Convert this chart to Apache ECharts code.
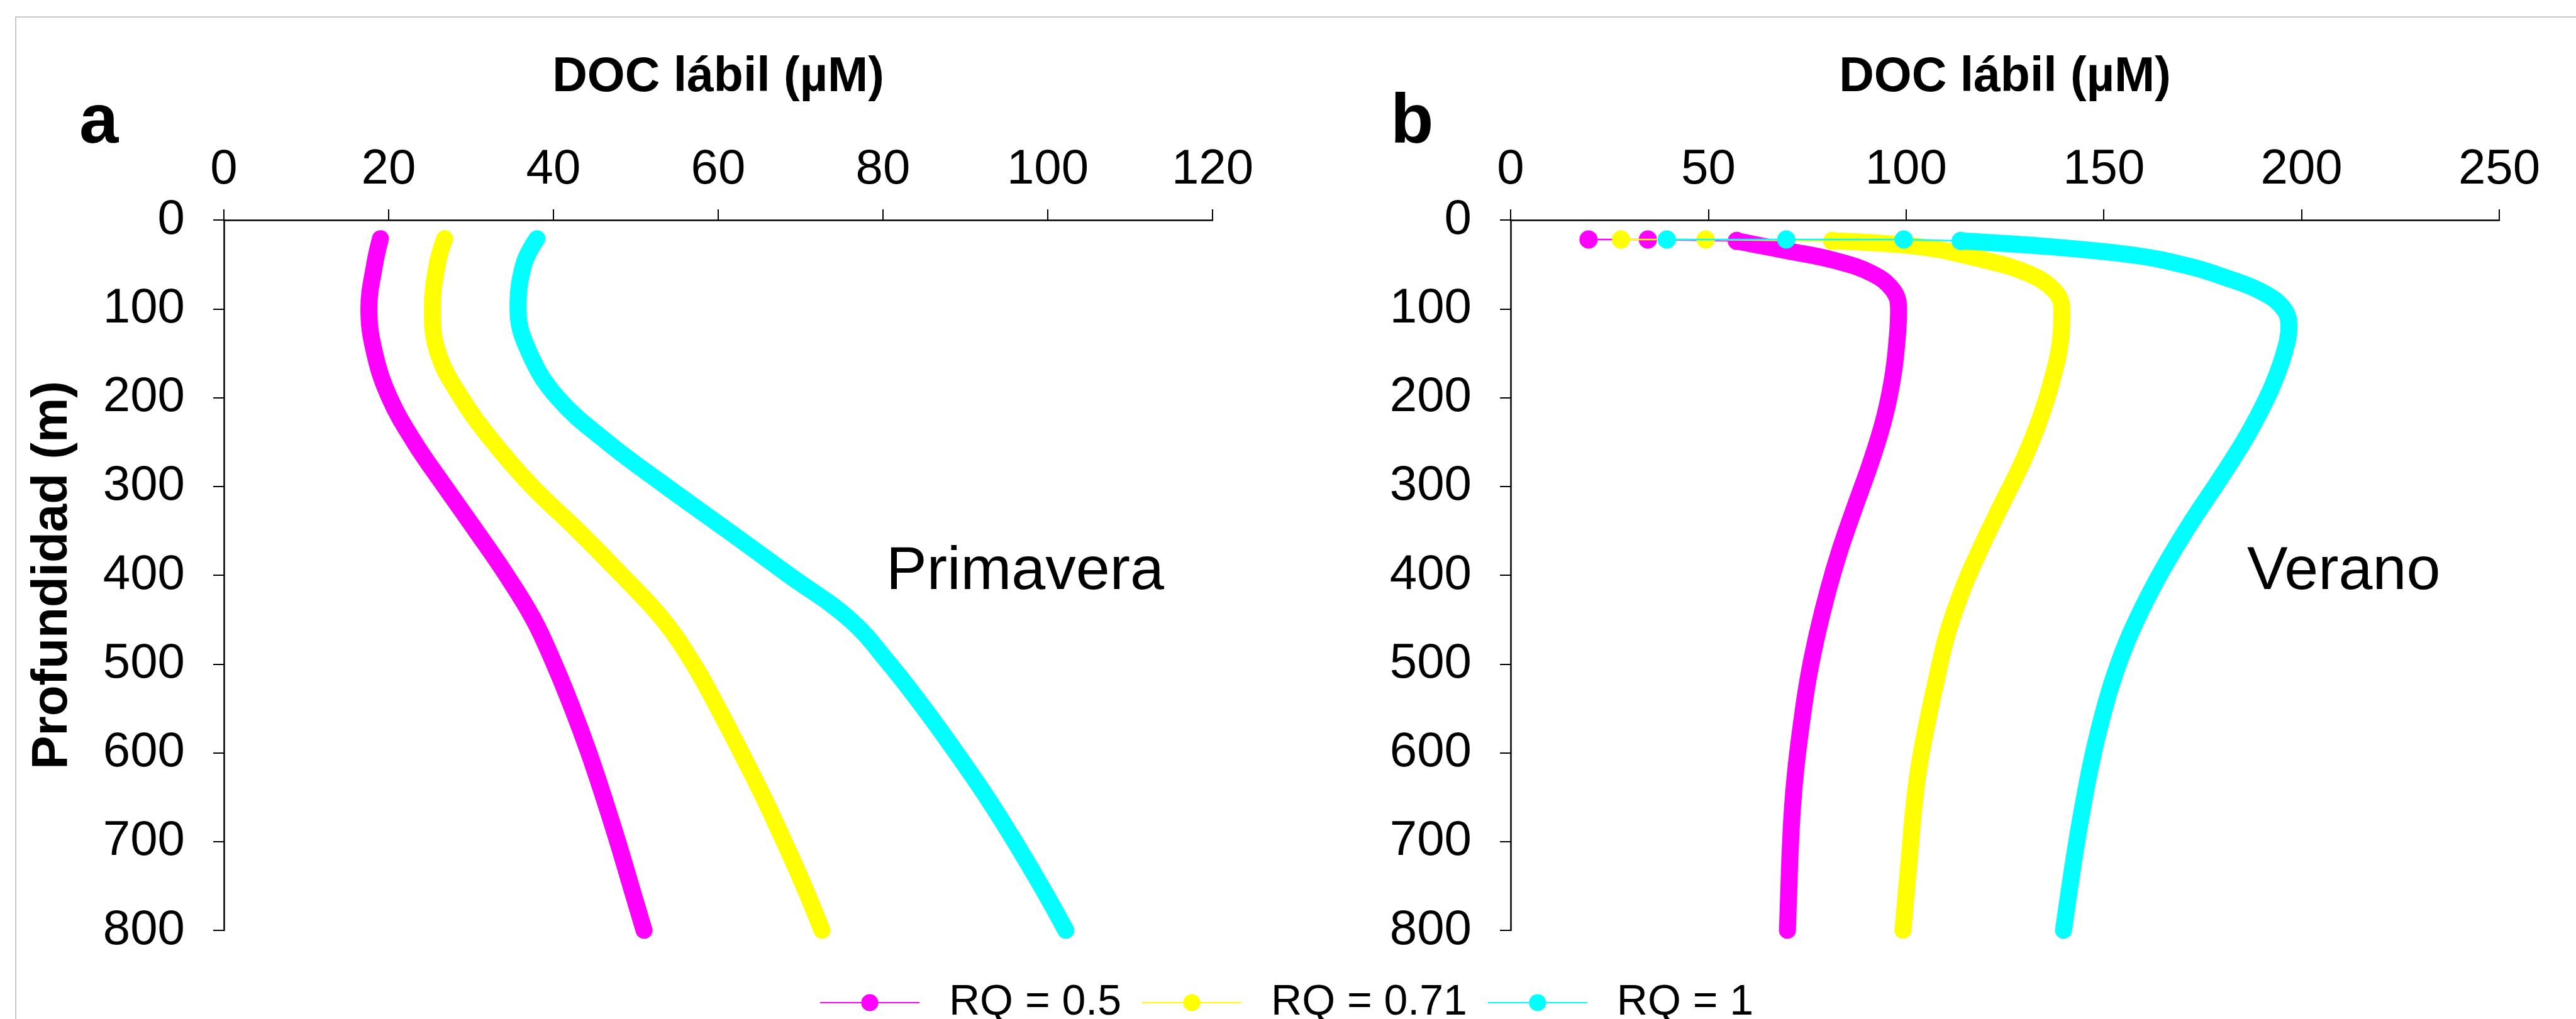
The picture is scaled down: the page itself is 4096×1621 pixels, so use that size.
<!DOCTYPE html>
<html>
<head>
<meta charset="utf-8">
<title>DOC lábil – Primavera / Verano</title>
<script src="https://cdn.jsdelivr.net/npm/echarts@6/dist/echarts.min.js"></script>
<style>
  html, body { margin: 0; padding: 0; background: #ffffff; }
  #chart { width: 4096px; height: 1621px; }
</style>
</head>
<body>
<div id="chart"></div>
<script>
// ---- Data -------------------------------------------------------------
const seriesNames = ['RQ = 0.5', 'RQ = 0.71', 'RQ = 1'];
const seriesColors = ['#ff00ff', '#ffff00', '#00ffff'];

// a) Primavera: depth (m) and labile DOC (µM)
const springDepth = [21, 50, 100, 150, 200, 250, 300, 350, 400, 450, 500, 550, 600, 650, 700, 750, 800];
const springRQ05  = [19.0, 18.3, 17.6, 18.3, 20.1, 23.1, 26.8, 30.6, 34.3, 37.6, 40.1, 42.3, 44.3, 46.1, 47.8, 49.4, 51.0];
const springRQ071 = [26.8, 25.9, 25.3, 26.0, 28.8, 32.7, 37.4, 43.0, 48.3, 53.3, 57.0, 60.0, 62.8, 65.5, 68.0, 70.4, 72.6];
const springRQ1   = [38.0, 36.4, 35.7, 37.1, 40.5, 46.5, 53.7, 61.2, 68.6, 76.0, 80.8, 85.0, 88.9, 92.6, 96.0, 99.2, 102.2];

// b) Verano: continuous profiles
const summerDepthRQ05  = [23.5, 30, 35, 45, 60, 79, 100, 125, 172, 221, 270, 320, 370, 415, 465, 515, 565, 615, 660, 710, 760, 800];
const summerRQ05       = [57.2, 64.5, 70.4, 81.4, 91.3, 96.7, 98.1, 97.9, 96.8, 94.6, 91.3, 87.3, 83.4, 80.4, 77.6, 75.3, 73.6, 72.2, 71.3, 70.7, 70.3, 70.0];
const summerDepthRQ071 = [23.5, 30, 45, 60, 79, 100, 133, 172, 221, 270, 320, 370, 415, 465, 515, 565, 615, 660, 710, 760, 800];
const summerRQ071      = [81.3, 103.3, 119.8, 130.8, 137.4, 139.4, 139.1, 137.4, 134.1, 129.7, 124.2, 118.8, 114.4, 110.5, 107.8, 105.4, 103.3, 102.0, 101.0, 100.0, 99.2];
const summerDepthRQ1   = [23.5, 30, 40, 52, 64, 81, 100, 120, 150, 185, 216, 250, 290, 348, 407, 465, 514, 563, 612, 663, 710, 760, 800];
const summerRQ1        = [113.8, 136.3, 158.3, 171.5, 180.3, 190.0, 195.5, 196.8, 195.6, 192.8, 189.5, 185.3, 179.6, 171.0, 163.2, 156.8, 152.6, 149.4, 146.8, 144.6, 142.8, 141.1, 139.8];

// b) Verano: first near-surface points, joined by a thin line
const summerTopDepthRQ05  = [22, 22, 23.5];
const summerTopRQ05       = [19.7, 34.7, 57.2];
const summerTopDepthRQ071 = [22, 22, 23.5];
const summerTopRQ071      = [27.9, 49.3, 81.3];
const summerTopDepthRQ1   = [22, 22, 22, 23.5];
const summerTopRQ1        = [39.5, 69.7, 99.4, 113.8];

// Axis ticks
const springDocMax = 120, springDocStep = 20;
const summerDocMax = 250, summerDocStep = 50;
const depthMax = 800, depthStep = 100;

// ---- Helpers ----------------------------------------------------------
const FONT = '"Liberation Sans", Arial, Helvetica, sans-serif';
const pairs = (vals, depths) => vals.map((v, i) => [v, depths[i]]);

function docAxis(gridIndex, max, step) {
  return {
    type: 'value', gridIndex, position: 'top', min: 0, max, interval: step,
    axisLine: { show: true, onZero: false, lineStyle: { color: '#000', width: 2.5 } },
    axisTick: { show: true, inside: false, length: 17, lineStyle: { color: '#000', width: 2 } },
    axisLabel: { fontSize: 78, color: '#000', margin: 41, fontFamily: FONT },
    splitLine: { show: false },
    name: 'DOC lábil (µM)', nameLocation: 'middle', nameGap: 188,
    nameTextStyle: { fontSize: 77, fontWeight: 'bold', color: '#000', fontFamily: FONT }
  };
}

function depthAxis(gridIndex, withName) {
  const ax = {
    type: 'value', gridIndex, inverse: true, min: 0, max: depthMax, interval: depthStep,
    axisLine: { show: true, onZero: false, lineStyle: { color: '#000', width: 2.5 } },
    axisTick: { show: true, inside: false, length: 17, lineStyle: { color: '#000', width: 2 } },
    axisLabel: { fontSize: 78, color: '#000', margin: 62, fontFamily: FONT },
    splitLine: { show: false }
  };
  if (withName) {
    Object.assign(ax, {
      name: 'Profundidad (m)', nameLocation: 'middle', nameGap: 232, nameRotate: 90,
      nameTextStyle: { fontSize: 80, fontWeight: 'bold', color: '#000', fontFamily: FONT }
    });
  }
  return ax;
}

function band(name, idx, axis, data) {
  return {
    name, type: 'line', xAxisIndex: axis, yAxisIndex: axis, data,
    smooth: 0.4, symbol: 'none', showSymbol: false, silent: true,
    lineStyle: { color: seriesColors[idx], width: 27, cap: 'round', join: 'round' },
    itemStyle: { color: seriesColors[idx] },
    z: 2 + idx * 2
  };
}

function topPoints(name, idx, data) {
  return {
    name, type: 'line', xAxisIndex: 1, yAxisIndex: 1, data,
    symbol: 'circle', symbolSize: 29, showSymbol: true, silent: true,
    lineStyle: { color: seriesColors[idx], width: 2.5 },
    itemStyle: { color: seriesColors[idx] },
    z: 3 + idx * 2
  };
}

// ---- Chart ------------------------------------------------------------
const chart = echarts.init(document.getElementById('chart'), null, { renderer: 'canvas' });

chart.setOption({
  animation: false,
  backgroundColor: '#ffffff',
  textStyle: { fontFamily: FONT },
  grid: [
    { left: 356, top: 350, width: 1572, height: 1130 },
    { left: 2402, top: 350, width: 1572, height: 1130 }
  ],
  xAxis: [docAxis(0, springDocMax, springDocStep), docAxis(1, summerDocMax, summerDocStep)],
  yAxis: [depthAxis(0, true), depthAxis(1, false)],
  legend: {
    data: seriesNames,
    left: 1298, top: 1556,
    itemWidth: 158, itemHeight: 34, itemGap: 32,
    textStyle: { fontSize: 68, color: '#000', fontFamily: FONT, padding: [0, 0, 0, 42] },
    selectedMode: false
  },
  series: [
    // near-surface points first so the legend takes their marker style
    topPoints(seriesNames[0], 0, pairs(summerTopRQ05, summerTopDepthRQ05)),
    topPoints(seriesNames[1], 1, pairs(summerTopRQ071, summerTopDepthRQ071)),
    topPoints(seriesNames[2], 2, pairs(summerTopRQ1, summerTopDepthRQ1)),
    band(seriesNames[0], 0, 0, pairs(springRQ05, springDepth)),
    band(seriesNames[1], 1, 0, pairs(springRQ071, springDepth)),
    band(seriesNames[2], 2, 0, pairs(springRQ1, springDepth)),
    band(seriesNames[0], 0, 1, pairs(summerRQ05, summerDepthRQ05)),
    band(seriesNames[1], 1, 1, pairs(summerRQ071, summerDepthRQ071)),
    band(seriesNames[2], 2, 1, pairs(summerRQ1, summerDepthRQ1))
  ],
  graphic: [
    { type: 'rect', silent: true, z: 0,
      shape: { x: 25, y: 27, width: 5000, height: 3000 },
      style: { fill: 'none', stroke: '#c8c8c8', lineWidth: 2 } },
    { type: 'text', x: 126, y: 196, silent: true,
      style: { text: 'a', font: 'bold 112px ' + FONT, fill: '#000', verticalAlign: 'middle' } },
    { type: 'text', x: 2211, y: 196, silent: true,
      style: { text: 'b', font: 'bold 112px ' + FONT, fill: '#000', verticalAlign: 'middle' } },
    { type: 'text', x: 1409, y: 910, silent: true,
      style: { text: 'Primavera', font: '97px ' + FONT, fill: '#000', verticalAlign: 'middle' } },
    { type: 'text', x: 3573, y: 910, silent: true,
      style: { text: 'Verano', font: '97px ' + FONT, fill: '#000', verticalAlign: 'middle' } }
  ]
});
</script>
</body>
</html>
